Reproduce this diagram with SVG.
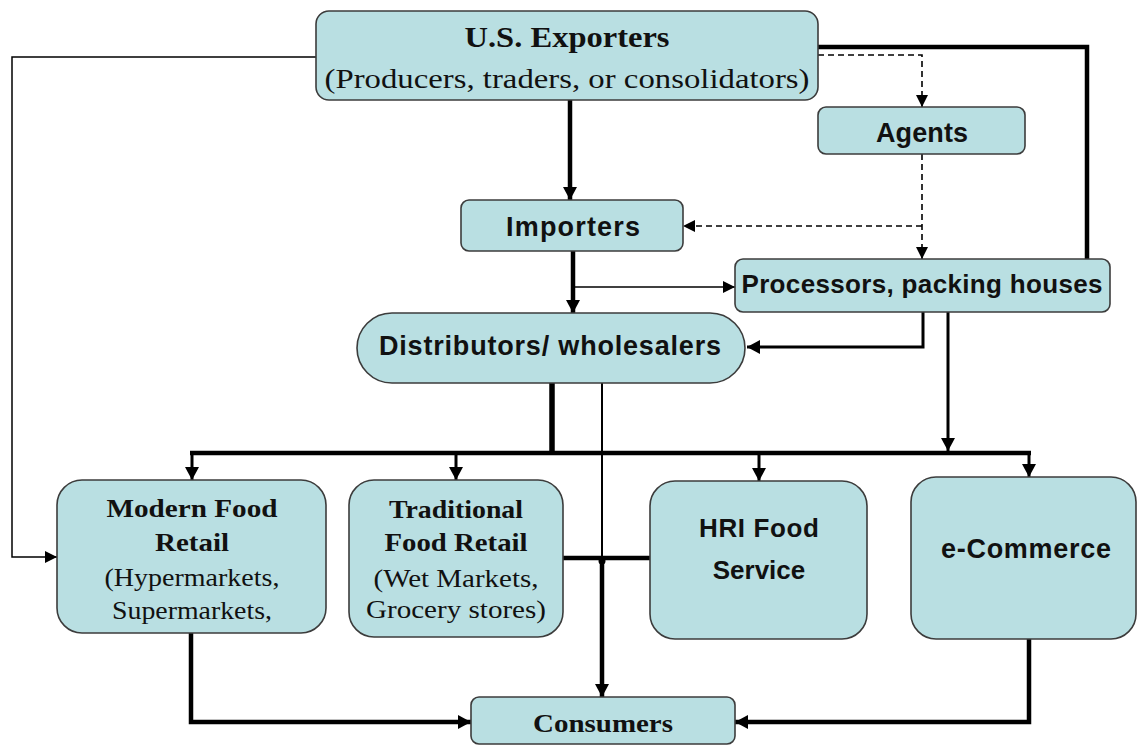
<svg xmlns="http://www.w3.org/2000/svg" width="1137" height="746" viewBox="0 0 1137 746">
<style>
.box{fill:#b9dfe2;stroke:#3c3c3c;stroke-width:1.6}
.sans{font-family:"Liberation Sans",Arial,sans-serif;font-weight:bold;fill:#111;text-anchor:middle}
.serif{font-family:"Liberation Serif","Times New Roman",serif;fill:#111;text-anchor:middle}
.b{font-weight:bold}
.ln{fill:none;stroke:#000;stroke-linejoin:miter}
.thin{stroke-width:1.5}
.mid{stroke-width:3}
.thick{stroke-width:4.5}
.dash{stroke-width:1.6;stroke-dasharray:6 4}
</style>
<defs>
<marker id="ah" markerUnits="userSpaceOnUse" markerWidth="14" markerHeight="14" refX="13" refY="7" orient="auto">
<path d="M0,0 L13,7 L0,14 z" fill="#000"/>
</marker>
<marker id="as" markerUnits="userSpaceOnUse" markerWidth="12" markerHeight="12" refX="12" refY="6" orient="auto">
<path d="M0,0 L12,6 L0,12 z" fill="#000"/>
</marker>
</defs>
<rect width="1137" height="746" fill="#fff"/>

<g id="connectors">
<path class="ln thick" d="M570,100 V200" marker-end="url(#ah)"/>
<path class="ln thick" d="M818,47 H1087 V259"/>
<path class="ln dash" d="M818,55 H922 V107" marker-end="url(#as)"/>
<path class="ln dash" d="M922,154 V259" marker-end="url(#as)"/>
<path class="ln dash" d="M922,226 H683" marker-end="url(#as)"/>
<path class="ln thin" d="M316,57 H12 V557 H57" marker-end="url(#as)"/>
<path class="ln thick" d="M573,251 V313" marker-end="url(#ah)"/>
<path class="ln thin" d="M573,287 H735" marker-end="url(#as)"/>
<path class="ln mid" d="M923,312 V347 H747" marker-end="url(#ah)"/>
<path class="ln mid" d="M948,312 V451" marker-end="url(#ah)"/>
<path class="ln" stroke-width="5.5" d="M552,383 V453"/>
<path class="ln thick" d="M190,453 H1031"/>
<path class="ln mid" d="M192,453 V480" marker-end="url(#ah)"/>
<path class="ln mid" d="M456,453 V480" marker-end="url(#ah)"/>
<path class="ln mid" d="M759,453 V481" marker-end="url(#ah)"/>
<path class="ln mid" d="M1029,453 V477" marker-end="url(#ah)"/>
<path class="ln" stroke-width="2" d="M602,383 V560"/>
<path class="ln thick" d="M602,558 V697" marker-end="url(#ah)"/>
<path class="ln thick" d="M563,558 H650"/>
<circle cx="602" cy="561" r="3.5" fill="#000"/>
<path class="ln thick" d="M191,633 V722 H471" marker-end="url(#ah)"/>
<path class="ln thick" d="M1029,639 V722 H735" marker-end="url(#ah)"/>
</g>

<g id="us-exporters">
<rect class="box" x="316" y="11" width="502" height="89" rx="13"/>
<text class="serif b" x="567" y="47" font-size="29" textLength="205" lengthAdjust="spacingAndGlyphs">U.S. Exporters</text>
<text class="serif" x="567" y="88" font-size="28" textLength="485" lengthAdjust="spacingAndGlyphs">(Producers, traders, or consolidators)</text>
</g>

<g id="agents">
<rect class="box" x="818" y="107" width="207" height="47" rx="8"/>
<text class="sans" x="922" y="142" font-size="27" textLength="92">Agents</text>
</g>

<g id="importers">
<rect class="box" x="461" y="200" width="222" height="51" rx="8"/>
<text class="sans" x="573" y="236" font-size="27" textLength="134">Importers</text>
</g>

<g id="processors">
<rect class="box" x="735" y="259" width="375" height="53" rx="8"/>
<text class="sans" x="922" y="293" font-size="26" textLength="361">Processors, packing houses</text>
</g>

<g id="distributors">
<rect class="box" x="357" y="313" width="388" height="70" rx="35"/>
<text class="sans" x="550" y="355" font-size="27" textLength="342">Distributors/ wholesalers</text>
</g>

<g id="modern-food-retail">
<rect class="box" x="57" y="480" width="269" height="153" rx="25"/>
<text class="serif b" x="192" y="517" font-size="25" textLength="171" lengthAdjust="spacingAndGlyphs">Modern Food</text>
<text class="serif b" x="192" y="551" font-size="25" textLength="74" lengthAdjust="spacingAndGlyphs">Retail</text>
<text class="serif" x="192" y="586" font-size="25" textLength="175" lengthAdjust="spacingAndGlyphs">(Hypermarkets,</text>
<text class="serif" x="192" y="619" font-size="25" textLength="160" lengthAdjust="spacingAndGlyphs">Supermarkets,</text>
</g>

<g id="traditional-food-retail">
<rect class="box" x="349" y="480" width="214" height="157" rx="25"/>
<text class="serif b" x="456" y="518" font-size="25" textLength="134" lengthAdjust="spacingAndGlyphs">Traditional</text>
<text class="serif b" x="456" y="551" font-size="25" textLength="143" lengthAdjust="spacingAndGlyphs">Food Retail</text>
<text class="serif" x="456" y="587" font-size="25" textLength="165" lengthAdjust="spacingAndGlyphs">(Wet Markets,</text>
<text class="serif" x="456" y="618" font-size="25" textLength="180" lengthAdjust="spacingAndGlyphs">Grocery stores)</text>
</g>

<g id="hri-food-service">
<rect class="box" x="650" y="481" width="217" height="158" rx="25"/>
<text class="sans" x="759" y="537" font-size="26" textLength="120">HRI Food</text>
<text class="sans" x="759" y="579" font-size="26">Service</text>
</g>

<g id="e-commerce">
<rect class="box" x="911" y="477" width="225" height="162" rx="25"/>
<text class="sans" x="1026" y="558" font-size="27" textLength="170">e-Commerce</text>
</g>

<g id="consumers">
<rect class="box" x="471" y="697" width="264" height="47" rx="8"/>
<text class="serif b" x="603" y="732" font-size="25" textLength="140" lengthAdjust="spacingAndGlyphs">Consumers</text>
</g>
</svg>
